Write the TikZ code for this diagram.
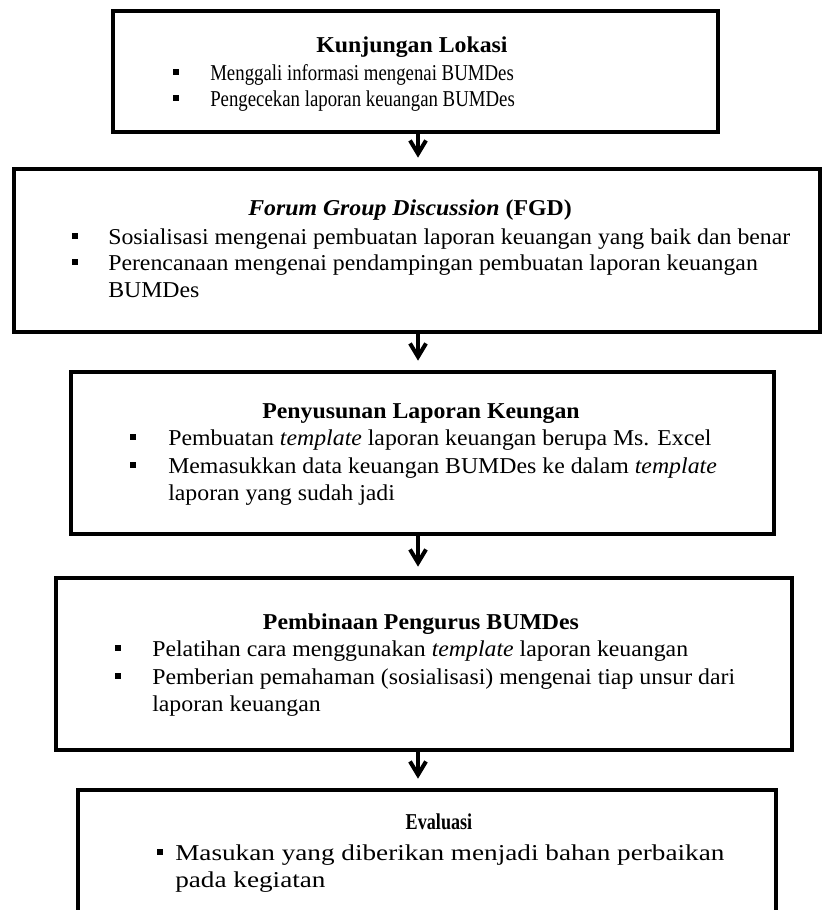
\documentclass[tikz,border=0pt]{standalone}
\usepackage{fontspec}
\setmainfont{Liberation Serif}[FakeStretch=1.05]
\newfontfamily\narrowserif{Liberation Serif}[FakeStretch=0.83]
\newfontfamily\wideserif{Liberation Serif}[FakeStretch=1.2]
\newfontfamily\tightserif{Liberation Serif}[FakeStretch=0.8]
\usetikzlibrary{arrows.meta,
                fit}

\newcommand{\flowfont}{\fontsize{17}{20}\selectfont}

\tikzset{
    x = 0.75pt, y = -0.75pt,
    stepbox/.style = {draw, line width = 3pt, inner sep = 0pt},
    heading/.style = {font = \flowfont\bfseries, inner sep = 0pt, anchor = base},
    bullet/.style  = {fill, inner sep = 0pt, minimum size = 4.5pt},
    entry/.style   = {font = \flowfont, inner sep = 0pt, anchor = base west, align = left},
    flow/.style    = {line width = 2.5pt, shorten > = 7pt,
                      -{Straight Barb[length = 10pt, width = 12pt, line width = 3pt]}}
}

\begin{document}
\begin{tikzpicture}
    \clip (0, 0) rectangle (823, 910);
    \fill [white] (0, 0) rectangle (823, 910);

    % boxes
    \node [stepbox, fit = {(113, 11) (718, 132)}] (lokasi) {};
    \node [stepbox, fit = {(14, 169) (820, 332)}] (fgd) {};
    \node [stepbox, fit = {(71, 372) (774, 534)}] (susun) {};
    \node [stepbox, fit = {(56, 578) (792, 750)}] (bina) {};
    \node [stepbox, fit = {(78, 790) (776, 940)}] (evaluasi) {};

    % Kunjungan Lokasi
    \node [heading] (lokasi-t) at (412, 52) {Kunjungan Lokasi};
    \node [bullet] (lokasi-b1) at (176, 72) {};
    \node [bullet] (lokasi-b2) at (176, 98) {};
    \node [entry, font = \flowfont\narrowserif] (lokasi-e1) at (210, 80) {Menggali informasi mengenai BUMDes};
    \node [entry, font = \flowfont\narrowserif] (lokasi-e2) at (210, 106) {Pengecekan laporan keuangan BUMDes};

    % FGD
    \node [heading] (fgd-t) at (410, 215) {\textit{Forum Group Discussion} (FGD)};
    \node [bullet] (fgd-b1) at (75, 236) {};
    \node [bullet] (fgd-b2) at (75, 262) {};
    \node [entry] (fgd-e1) at (108, 244) {Sosialisasi mengenai pembuatan laporan keuangan yang baik dan benar};
    \node [entry] (fgd-e2) at (108, 297) {Perencanaan mengenai pendampingan pembuatan laporan keuangan\\BUMDes};

    % Penyusunan
    \node [heading] (susun-t) at (421, 418) {Penyusunan Laporan Keungan};
    \node [bullet] (susun-b1) at (133, 437) {};
    \node [bullet] (susun-b2) at (133, 465) {};
    \node [entry] (susun-e1) at (168, 445) {Pembuatan \textit{template} laporan keuangan berupa Ms. Excel};
    \node [entry] (susun-e2) at (168, 500) {Memasukkan data keuangan BUMDes ke dalam \textit{template}\\laporan yang sudah jadi};

    % Pembinaan
    \node [heading] (bina-t) at (421, 629) {Pembinaan Pengurus BUMDes};
    \node [bullet] (bina-b1) at (118, 648) {};
    \node [bullet] (bina-b2) at (118, 676) {};
    \node [entry] (bina-e1) at (152, 656) {Pelatihan cara menggunakan \textit{template} laporan keuangan};
    \node [entry] (bina-e2) at (152, 711) {Pemberian pemahaman (sosialisasi) mengenai tiap unsur dari\\laporan keuangan};

    % Evaluasi
    \node [heading, font = \flowfont\tightserif\bfseries] (evaluasi-t) at (439, 829) {Evaluasi};
    \node [bullet] (evaluasi-b1) at (160, 852) {};
    \node [entry, font = \flowfont\wideserif] (evaluasi-e1) at (175, 887) {Masukan yang diberikan menjadi bahan perbaikan\\pada kegiatan};

    % arrows
    \coordinate (ax) at (418, 0);
    \draw [flow] (lokasi.south -| ax) -- (fgd.north -| ax);
    \draw [flow] (fgd.south -| ax) -- (susun.north -| ax);
    \draw [flow] (susun.south -| ax) -- (bina.north -| ax);
    \draw [flow] (bina.south -| ax) -- (evaluasi.north -| ax);
\end{tikzpicture}
\end{document}
